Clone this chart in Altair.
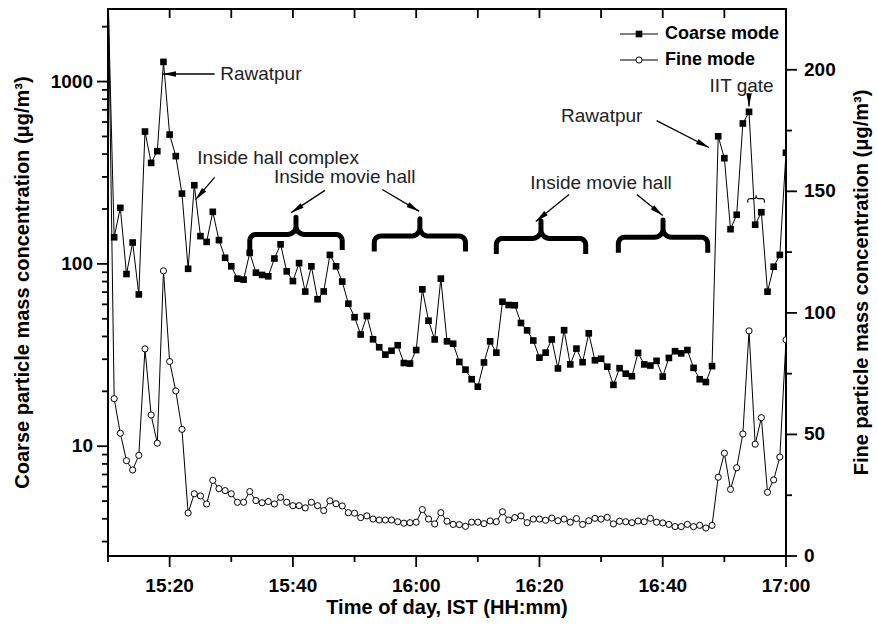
import math
import altair as alt
import pandas as pd

# one-minute samples, 15:10 to 17:00 IST
times = [f"{15 + m // 60}:{m % 60:02d}" for m in range(10, 121)]

# coarse mode mass concentration (ug/m3), log axis
coarse = [
    3000, 140, 203, 88, 131, 68, 532, 358, 415, 1282,          # 15:10-15:19
    512, 390, 243, 94, 270, 142, 132, 193, 135, 108,           # 15:20-15:29
    97, 83, 82, 115, 89.5, 87, 85.5, 107, 128, 91,             # 15:30-15:39
    80.5, 101, 70.5, 97, 64, 70.6, 112, 97, 80, 60.5,          # 15:40-15:49
    51, 41, 51.8, 38.6, 34.9, 31.8, 33.4, 35.8, 28.6, 28.4,    # 15:50-15:59
    33.7, 72.5, 48.8, 38.5, 83, 37.6, 36.5, 29, 26.3, 23.3,    # 16:00-16:09
    21.2, 28.8, 37.6, 32.6, 62, 59.5, 59.3, 47.4, 43.2, 38,    # 16:10-16:19
    30.6, 32.6, 38.5, 26.7, 43.3, 28.1, 34.3, 28.9, 41.6, 29.6,  # 16:20-16:29
    30.2, 27.3, 21.7, 26.8, 25, 24.2, 32.5, 28.1, 27.7, 29.4,  # 16:30-16:39
    24.1, 30.5, 33.2, 32.3, 33.7, 26.9, 23.3, 22.5, 27.5, 501,  # 16:40-16:49
    380, 155, 186, 589, 682, 164, 192, 70.4, 96.5, 112,        # 16:50-16:59
    407,                                                       # 17:00
]

# fine mode mass concentration (ug/m3), linear axis
fine = [
    240, 64.7, 50.5, 39.2, 35.4, 41.4, 85.2, 58, 46.4, 117.3,  # 15:10-15:19
    80, 67.9, 52.1, 17.7, 25.6, 24.7, 21.4, 31.1, 27.7, 26.9,  # 15:20-15:29
    25.6, 22.1, 22.1, 26.5, 22.8, 21.9, 22.4, 21.4, 24.1, 22.1,  # 15:30-15:39
    20.7, 20.7, 19.8, 22.1, 20.7, 18.7, 22.7, 21.5, 20.6, 17.8,  # 15:40-15:49
    17.6, 15.8, 16.5, 15.2, 14.8, 14.8, 14.8, 14.1, 13.5, 13.7,  # 15:50-15:59
    13.9, 19.1, 15.2, 13.2, 17.8, 14.3, 13.0, 12.9, 12.2, 13.9,  # 16:00-16:09
    13.9, 13.3, 14.4, 14.1, 18.2, 14.8, 15.8, 16.5, 13.7, 15.2,  # 16:10-16:19
    15.2, 14.7, 15.6, 14.5, 15.2, 13.9, 15.4, 13.0, 14.5, 15.5,  # 16:20-16:29
    15.2, 15.9, 13.2, 14.3, 14.1, 13.7, 14.4, 14.1, 15.5, 13.9,  # 16:30-16:39
    13.6, 13.0, 12.1, 12.1, 13.0, 12.1, 12.6, 11.5, 12.6, 32.4,  # 16:40-16:49
    42.3, 27.4, 36.3, 50.2, 92.6, 46.0, 56.9, 26.2, 31.3, 40.7,  # 16:50-16:59
    88.9,                                                        # 17:00
]

# axis ticks and tick labels
x_major = [20, 40, 60, 80, 100, 120]
x_labels = ["15:20", "15:40", "16:00", "16:20", "16:40", "17:00"]
x_minor = [10, 30, 50, 70, 90, 110]
y_major = [10, 100, 1000]
y_labels = ["10", "100", "1000"]
y_minor = [3, 4, 5, 6, 7, 8, 9, 20, 30, 40, 50, 60, 70, 80, 90,
           200, 300, 400, 500, 600, 700, 800, 900, 2000]
f_major = [0, 50, 100, 150, 200]
f_labels = ["0", "50", "100", "150", "200"]
f_minor = [25, 75, 125, 175]

x_title = "Time of day, IST (HH:mm)"
y_title = "Coarse particle mass concentration (μg/m³)"
f_title = "Fine particle mass concentration (μg/m³)"

# text labels: (text, minute after 15:00, coarse-axis value, align)
labels = [
    ("Rawatpur", 28.2, 1100, "left"),
    ("Inside hall complex", 37.6, 380, "center"),
    ("Inside movie hall", 48.4, 300, "center"),
    ("Inside movie hall", 90.0, 276, "center"),
    ("Rawatpur", 90.1, 650, "center"),
    ("IIT gate", 112.8, 951, "center"),
]

# arrows: (start minute, start value, end minute, end value)
arrows = [
    (27.3, 1100, 18.9, 1100),
    (27.3, 298, 24.2, 225),
    (45.2, 253, 39.7, 191),
    (54.5, 256, 60.5, 194),
    (84.8, 240, 79.4, 171),
    (95.8, 240, 100.0, 184),
    (99.0, 611, 107.5, 435),
    (114.0, 860, 114.0, 730),
]

# curly braces over the movie-hall periods: (start minute, end minute, bar level)
braces = [
    (33.0, 48.0, 145),
    (53.2, 68.0, 142),
    (73.0, 87.5, 138),
    (92.8, 107.3, 140),
]
small_brace = (113.8, 116.5, 228)

W, H = 678, 547
X_DOM = [10, 120]
Y_DOM = [2.5, 2500]
F_DOM = [0, 225]
FONT = "Liberation Sans"
MAJOR, MINOR = 11, 6
TICK_W = 1.8
LABEL_SIZE = 19
TITLE_SIZE = 20


def minutes_after_15(t):
    h, m = t.split(":")
    return (int(h) - 15) * 60 + int(m)


df = pd.DataFrame({
    "time": times,
    "minute": [minutes_after_15(t) for t in times],
    "coarse": coarse,
    "fine": fine,
})


def brace_points(name, x0, x1, level, drop, rise, rx, ry, sx, sy, n=8):
    """Polyline of a horizontal curly brace (tip up) in minute / log10 units."""
    bar = math.log10(level)
    xm = (x0 + x1) / 2
    half = [(x0, bar - drop), (x0, bar - ry)]
    for k in range(1, n + 1):
        t = math.pi - (math.pi / 2) * k / n
        half.append((x0 + rx + rx * math.cos(t), bar - ry + ry * math.sin(t)))
    for k in range(0, n + 1):
        t = -math.pi / 2 + (math.pi / 2) * k / n
        half.append((xm - sx + sx * math.cos(t), bar + sy + sy * math.sin(t)))
    half.append((xm, bar + rise))
    right = [(2 * xm - x, y) for x, y in reversed(half[:-1])]
    pts = half + right
    return [{"brace": name, "i": i, "minute": x, "coarse": 10 ** y} for i, (x, y) in enumerate(pts)]


brace_rows = []
for j, (a, b, lv) in enumerate(braces):
    brace_rows += brace_points(f"b{j}", a, b, lv, 0.085, 0.095, 1.0, 0.035, 1.4, 0.045)
small_rows = brace_points("s", *small_brace, 0.022, 0.018, 0.4, 0.012, 0.4, 0.012, n=4)


def px_dir(x0, v0, x1, v1):
    dx = (x1 - x0) * W / (X_DOM[1] - X_DOM[0])
    dy = -(math.log10(v1) - math.log10(v0)) * H / (math.log10(Y_DOM[1]) - math.log10(Y_DOM[0]))
    return (math.degrees(math.atan2(dx, -dy)) + 360) % 360


arrow_lines = []
arrow_heads = []
for k, (x0, v0, x1, v1) in enumerate(arrows):
    arrow_lines += [{"a": k, "i": 0, "minute": x0, "coarse": v0},
                    {"a": k, "i": 1, "minute": x1, "coarse": v1}]
    arrow_heads.append({"minute": x1, "coarse": v1, "ang": px_dir(x0, v0, x1, v1)})

label_df = pd.DataFrame(labels, columns=["text", "minute", "coarse", "align"])

x_scale = alt.Scale(domain=X_DOM, nice=False, zero=False)
y_scale = alt.Scale(type="log", domain=Y_DOM, nice=False)
f_scale = alt.Scale(domain=F_DOM, nice=False, zero=False)

Xn = alt.X("minute:Q", scale=x_scale, axis=None)
Ycn = alt.Y("coarse:Q", scale=y_scale, axis=None)
Yfn = alt.Y("fine:Q", scale=f_scale, axis=None)

base = alt.Chart(df)

# ---- data series ----
coarse_line = base.mark_line(color="black", strokeWidth=1, clip=True).encode(x=Xn, y=Ycn)
coarse_pts = base.mark_point(shape="square", filled=True, size=44, color="black",
                             opacity=1, clip=True).encode(x=Xn, y=Ycn)
fine_line = base.mark_line(color="black", strokeWidth=1, clip=True).encode(x=Xn, y=Yfn)
fine_pts = base.mark_point(shape="circle", filled=True, size=38, fill="white", stroke="black",
                           strokeWidth=1, opacity=1, clip=True).encode(x=Xn, y=Yfn)


# ---- axes: ticks, tick labels and titles ----
def rule(frame, **enc):
    return alt.Chart(frame).mark_rule(color="black", strokeWidth=TICK_W).encode(**enc)


top_ticks = rule(pd.DataFrame({"minute": x_major + x_minor}), x=Xn, y=alt.value(0), y2=alt.value(9))
bottom_major = rule(pd.DataFrame({"minute": x_major}), x=Xn, y=alt.value(H), y2=alt.value(H + MAJOR))
bottom_minor = rule(pd.DataFrame({"minute": x_minor}), x=Xn, y=alt.value(H), y2=alt.value(H + MINOR))
left_major = rule(pd.DataFrame({"coarse": y_major}), y=Ycn, x=alt.value(-MAJOR), x2=alt.value(0))
left_minor = rule(pd.DataFrame({"coarse": y_minor}), y=Ycn, x=alt.value(-MINOR), x2=alt.value(0))
right_major = rule(pd.DataFrame({"fine": f_major}), y=Yfn, x=alt.value(W), x2=alt.value(W + MAJOR))
right_minor = rule(pd.DataFrame({"fine": f_minor}), y=Yfn, x=alt.value(W), x2=alt.value(W + MINOR))

tick_text = dict(font=FONT, fontSize=LABEL_SIZE, fontWeight="bold", color="black")
bottom_labels = alt.Chart(pd.DataFrame({"minute": x_major, "lab": x_labels})).mark_text(
    align="center", baseline="alphabetic", **tick_text).encode(
    x=Xn, y=alt.value(H + 36), text="lab:N")
left_labels = alt.Chart(pd.DataFrame({"coarse": y_major, "lab": y_labels})).mark_text(
    align="right", baseline="middle", **tick_text).encode(
    y=Ycn, x=alt.value(-15), text="lab:N")
right_labels = alt.Chart(pd.DataFrame({"fine": f_major, "lab": f_labels})).mark_text(
    align="left", baseline="middle", **tick_text).encode(
    y=Yfn, x=alt.value(W + 18), text="lab:N")

title_text = dict(font=FONT, fontSize=TITLE_SIZE, fontWeight="bold", color="black",
                  align="center", baseline="middle")
titles = alt.Chart(pd.DataFrame({"t": [x_title]})).mark_text(**title_text).encode(
    x=alt.value(W / 2), y=alt.value(H + 52), text="t:N")
y_title_mark = alt.Chart(pd.DataFrame({"t": [y_title]})).mark_text(angle=270, **title_text).encode(
    x=alt.value(-85), y=alt.value(H / 2), text="t:N")
f_title_mark = alt.Chart(pd.DataFrame({"t": [f_title]})).mark_text(angle=270, **title_text).encode(
    x=alt.value(W + 76), y=alt.value(H / 2), text="t:N")

# ---- annotations ----
brace_marks = alt.Chart(pd.DataFrame(brace_rows)).mark_line(
    color="black", strokeWidth=5, strokeJoin="round", strokeCap="butt").encode(
    x=Xn, y=Ycn, detail="brace:N", order="i:Q")
small_brace_mark = alt.Chart(pd.DataFrame(small_rows)).mark_line(
    color="black", strokeWidth=1.1).encode(x=Xn, y=Ycn, detail="brace:N", order="i:Q")

arrow_shafts = alt.Chart(pd.DataFrame(arrow_lines)).mark_line(
    color="black", strokeWidth=1.3).encode(x=Xn, y=Ycn, detail="a:N", order="i:Q")
arrow_tips = alt.Chart(pd.DataFrame(arrow_heads)).mark_point(
    shape="M0,0 L0.5,2.4 L-0.5,2.4 Z", filled=True, color="black", size=120, opacity=1).encode(
    x=Xn, y=Ycn, angle=alt.Angle("ang:Q", scale=None))

label_marks = [
    alt.Chart(label_df[label_df["align"] == al]).mark_text(
        font=FONT, fontSize=19, color="#222222", align=al, baseline="middle").encode(
        x=Xn, y=Ycn, text="text:N")
    for al in ["left", "center"]
]

# ---- legend, in plot-pixel space ----
leg = pd.DataFrame({"name": ["Coarse mode", "Fine mode"], "ly": [25, 51]})
leg_line = alt.Chart(leg).mark_rule(color="black", strokeWidth=1).encode(
    x=alt.value(512), x2=alt.value(550), y=alt.Y("ly:Q", scale=None))
leg_sq = alt.Chart(leg[leg["name"] == "Coarse mode"]).mark_point(
    shape="square", filled=True, size=44, color="black", opacity=1).encode(
    x=alt.value(531), y=alt.Y("ly:Q", scale=None))
leg_ci = alt.Chart(leg[leg["name"] == "Fine mode"]).mark_point(
    shape="circle", filled=True, size=38, fill="white", stroke="black", strokeWidth=1, opacity=1).encode(
    x=alt.value(531), y=alt.Y("ly:Q", scale=None))
leg_txt = alt.Chart(leg).mark_text(font=FONT, fontSize=18, fontWeight="bold", align="left",
                                   baseline="middle", color="black").encode(
    x=alt.value(557), y=alt.Y("ly:Q", scale=None), text="name:N")

chart = alt.layer(
    top_ticks, bottom_major, bottom_minor, left_major, left_minor, right_major, right_minor,
    bottom_labels, left_labels, right_labels, titles, y_title_mark, f_title_mark,
    brace_marks, small_brace_mark, arrow_shafts, arrow_tips, *label_marks,
    coarse_line, coarse_pts, fine_line, fine_pts,
    leg_line, leg_sq, leg_ci, leg_txt,
).resolve_scale(y="independent").properties(
    width=W, height=H,
    autosize=alt.AutoSizeParams(type="none"),
    padding={"left": 108, "top": 9, "right": 91, "bottom": 74},
).configure_view(stroke="black", strokeWidth=2)

chart.save("out.html", embed_options={"renderer": "svg", "actions": False})
